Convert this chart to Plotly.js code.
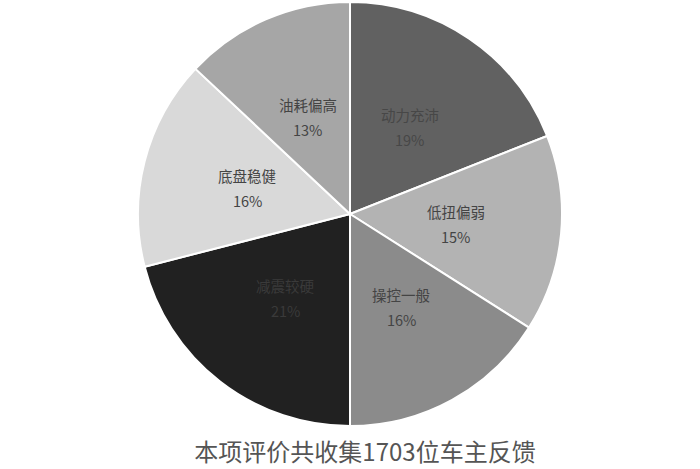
<!DOCTYPE html>
<html>
<head>
<meta charset="utf-8">
<script src="https://cdn.plot.ly/plotly-3.0.1.min.js"></script>
<style>
  html, body { margin: 0; padding: 0; background: #fff; }
  #chart { width: 700px; height: 469px; }
</style>
</head>
<body>
<div id="chart"></div>
<script>
// feedback categories, clockwise from 12 o'clock
const labels = ['动力充沛', '低扭偏弱', '操控一般', '减震较硬', '底盘稳健', '油耗偏高'];
const shares = [19, 15, 16, 21, 16, 13];
const sliceColors = ['#616161', '#b3b3b3', '#8b8b8b', '#212121', '#d9d9d9', '#a6a6a6'];
// text on the dark slices is barely lighter/darker than the fill
const labelColors = ['#474747', '#444444', '#444444', '#3a3a3a', '#444444', '#444444'];
const titleText = '本项评价共收集1703位车主反馈';

const W = 700;
const H = 469;
const margin = { l: 0, r: 0, t: 2, b: 43 };
const plotH = H - margin.t - margin.b;
const radiusPx = Math.min(W, plotH) / 2;

const trace = {
  type: 'pie',
  labels: labels,
  values: shares,
  sort: false,
  direction: 'clockwise',
  rotation: 0,
  textinfo: 'none',
  marker: {
    colors: sliceColors,
    line: { color: '#ffffff', width: 2 },
  },
  hoverinfo: 'none',
};

// labels sit at about half the radius, in the middle of each slice
const total = shares.reduce((a, b) => a + b, 0);
const annotations = [];
let cum = 0;
shares.forEach((v, i) => {
  const mid = ((cum + v / 2) / total) * 2 * Math.PI;
  cum += v;
  const r = radiusPx * 0.5;
  const x = 0.5 + (r * Math.sin(mid)) / W;
  const y = 0.5 + (r * Math.cos(mid)) / plotH;
  const font = { family: 'Noto Sans CJK SC, sans-serif', size: 14.5, color: labelColors[i] };
  const base = {
    xref: 'paper', yref: 'paper', x: x, y: y,
    xanchor: 'center', yanchor: 'middle', showarrow: false, font: font,
  };
  annotations.push({ ...base, yshift: 12, text: labels[i] });
  annotations.push({ ...base, yshift: -13, text: `${Math.round((v / total) * 100)}%` });
});

const layout = {
  width: W,
  height: H,
  margin: margin,
  showlegend: false,
  paper_bgcolor: '#ffffff',
  annotations: annotations,
  title: {
    text: titleText,
    x: 365 / W,
    xanchor: 'center',
    y: 1 - 453 / H,
    yanchor: 'middle',
    font: {
      family: 'Noto Sans CJK SC, sans-serif',
      size: 24,
      color: '#555555',
    },
  },
};

Plotly.newPlot('chart', [trace], layout, { displayModeBar: false, staticPlot: true });
</script>
</body>
</html>
